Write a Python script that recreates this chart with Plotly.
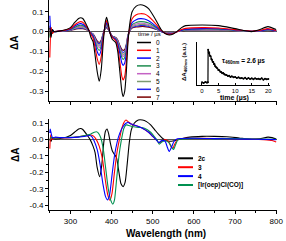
import plotly.graph_objects as go

# ---------------- data: top panel (transient spectra vs time) ----------------
wl_top = [250, 253, 256, 260, 280, 300, 310, 320, 325, 330,
          340, 345, 350, 355, 360, 365, 370, 375, 380, 385,
          388, 392, 396, 402, 410, 415, 420, 425, 428, 432,
          436, 440, 445, 450, 460, 470, 480, 490, 500, 510,
          520, 530, 540, 550, 560, 570, 580, 620, 660, 700,
          740, 760, 780, 800]

dA_t0 = [0.02, -0.03, 0.01, 0.0, 0.005, 0.02, 0.045, 0.066, 0.07, 0.066,
         0.03, 0.005, -0.03, -0.05, -0.12, -0.2, -0.25, -0.19, -0.05, 0.05,
         0.072, 0.04, -0.005, -0.04, -0.055, -0.1, -0.2, -0.3, -0.327, -0.3,
         -0.2, -0.05, 0.05, 0.1, 0.128, 0.135, 0.13, 0.115, 0.085, 0.05,
         0.012, -0.01, -0.017, -0.012, 0.002, 0.02, 0.03, 0.033, 0.03, 0.015,
         0.0, 0.01, 0.025, 0.01]
dA_t1 = [-0.13, 0.02, -0.01, 0.0, 0.004, 0.015, 0.033, 0.047, 0.05, 0.047,
         0.024, 0.007, -0.015, -0.032, -0.08, -0.135, -0.165, -0.125, -0.03, 0.04,
         0.055, 0.03, -0.005, -0.03, -0.045, -0.08, -0.15, -0.225, -0.243, -0.225,
         -0.15, -0.04, 0.03, 0.065, 0.085, 0.09, 0.088, 0.076, 0.056, 0.032,
         0.006, -0.008, -0.014, -0.01, 0.0, 0.01, 0.016, 0.02, 0.018, 0.01,
         0.002, 0.006, 0.015, 0.005]
dA_t2 = [0.08, -0.02, 0.01, 0.0, 0.004, 0.012, 0.027, 0.038, 0.04, 0.037,
         0.02, 0.006, -0.01, -0.024, -0.06, -0.1, -0.12, -0.09, -0.02, 0.032,
         0.045, 0.025, -0.005, -0.028, -0.04, -0.065, -0.11, -0.158, -0.17, -0.158,
         -0.11, -0.03, 0.02, 0.045, 0.06, 0.065, 0.063, 0.055, 0.04, 0.022,
         0.003, -0.008, -0.012, -0.008, 0.0, 0.007, 0.012, 0.015, 0.014, 0.008,
         0.002, 0.004, 0.011, 0.004]
dA_t3 = [-0.03, 0.01, 0.0, 0.0, 0.003, 0.01, 0.021, 0.03, 0.032, 0.03,
         0.017, 0.005, -0.008, -0.02, -0.05, -0.08, -0.095, -0.072, -0.015, 0.027,
         0.038, 0.02, -0.005, -0.027, -0.037, -0.057, -0.094, -0.13, -0.14, -0.13,
         -0.09, -0.025, 0.015, 0.035, 0.046, 0.05, 0.049, 0.043, 0.032, 0.018,
         0.002, -0.007, -0.011, -0.007, 0.0, 0.006, 0.01, 0.013, 0.012, 0.007,
         0.002, 0.004, 0.01, 0.004]
dA_t4 = [0.02, -0.01, 0.005, 0.0, 0.003, 0.009, 0.018, 0.025, 0.026, 0.025,
         0.014, 0.004, -0.007, -0.017, -0.042, -0.068, -0.08, -0.06, -0.012, 0.023,
         0.032, 0.017, -0.005, -0.026, -0.035, -0.052, -0.085, -0.117, -0.125, -0.117,
         -0.08, -0.022, 0.012, 0.029, 0.038, 0.042, 0.041, 0.036, 0.027, 0.015,
         0.002, -0.006, -0.01, -0.006, 0.0, 0.005, 0.009, 0.011, 0.011, 0.006,
         0.002, 0.003, 0.009, 0.003]
dA_t5 = [-0.02, 0.015, 0.0, 0.0, 0.003, 0.008, 0.016, 0.021, 0.022, 0.021,
         0.012, 0.003, -0.006, -0.015, -0.037, -0.06, -0.07, -0.053, -0.01, 0.02,
         0.028, 0.015, -0.005, -0.025, -0.033, -0.049, -0.08, -0.108, -0.115, -0.108,
         -0.074, -0.02, 0.01, 0.025, 0.032, 0.036, 0.035, 0.031, 0.023, 0.013,
         0.002, -0.005, -0.009, -0.005, 0.0, 0.004, 0.008, 0.01, 0.01, 0.005,
         0.002, 0.003, 0.008, 0.003]
dA_t6 = [0.03, -0.015, 0.005, 0.0, 0.002, 0.007, 0.013, 0.017, 0.018, 0.017,
         0.01, 0.002, -0.005, -0.013, -0.032, -0.053, -0.062, -0.047, -0.008, 0.017,
         0.024, 0.012, -0.005, -0.024, -0.031, -0.046, -0.074, -0.099, -0.105, -0.099,
         -0.068, -0.018, 0.008, 0.021, 0.027, 0.03, 0.03, 0.026, 0.02, 0.011,
         0.001, -0.005, -0.008, -0.005, 0.0, 0.004, 0.007, 0.009, 0.009, 0.005,
         0.002, 0.003, 0.007, 0.003]
dA_t7 = [-0.02, 0.02, -0.01, 0.0, 0.002, 0.006, 0.011, 0.014, 0.015, 0.014,
         0.008, 0.002, -0.005, -0.012, -0.028, -0.047, -0.055, -0.042, -0.007, 0.014,
         0.02, 0.01, -0.005, -0.023, -0.03, -0.043, -0.069, -0.09, -0.095, -0.09,
         -0.063, -0.016, 0.006, 0.018, 0.023, 0.025, 0.025, 0.022, 0.017, 0.01,
         0.001, -0.004, -0.007, -0.004, 0.0, 0.003, 0.006, 0.008, 0.008, 0.004,
         0.002, 0.003, 0.006, 0.003]
time_labels = ["0", "1", "2", "3", "4", "5", "6", "7"]

# ---------------- data: bottom panel (reference spectra) ----------------
wl_2c = [250, 253, 256, 260, 270, 280, 290, 300, 310, 320, 325, 330, 340, 348,
         355, 360, 365, 371, 376, 381, 385, 389, 393, 397, 402, 407, 412, 418,
         423, 428, 433, 438, 443, 448, 455, 465, 475, 485, 495, 505, 515, 525,
         535, 545, 555, 570, 590, 620, 650, 680, 710, 740, 760, 780, 790, 800]
dA_2c = [0.0, -0.01, 0.01, 0.005, 0.005, 0.01, 0.015, 0.025, 0.045, 0.065, 0.068, 0.062, 0.03, 0.0,
         -0.04, -0.08, -0.17, -0.226, -0.16, -0.02, 0.05, 0.065, 0.035, -0.02, -0.07, -0.09, -0.11, -0.2,
         -0.27, -0.287, -0.26, -0.15, -0.02, 0.06, 0.1, 0.12, 0.12, 0.11, 0.09, 0.06, 0.03, 0.005,
         -0.008, -0.01, -0.005, 0.005, 0.015, 0.02, 0.02, 0.018, 0.01, 0.002, 0.005, 0.015, 0.012, 0.003]

wl_3 = [250, 252, 255, 260, 270, 280, 300, 320, 340, 350, 357, 363, 370, 378, 385,
        391, 396, 401, 407, 413, 419, 425, 430, 435, 440, 448, 460, 475, 490, 500,
        508, 516, 522, 530, 538, 545, 549, 553, 560, 580, 620, 680, 740, 770, 790, 800]
dA_3 = [-0.055, 0.03, 0.0, 0.01, 0.012, 0.01, 0.012, 0.018, 0.025, 0.028, 0.02, 0.0, -0.04, -0.12, -0.25,
        -0.34, -0.37, -0.33, -0.2, -0.08, 0.0, 0.07, 0.105, 0.12, 0.11, 0.095, 0.085, 0.07, 0.045, 0.02,
        0.0, -0.02, -0.01, 0.0, -0.01, -0.045, -0.053, -0.03, 0.0, 0.008, 0.008, 0.005, 0.003, 0.0, -0.005, -0.015]

wl_4 = [250, 251, 254, 257, 262, 280, 300, 320, 340, 347, 352, 358, 365, 372, 379,
        385, 390, 395, 401, 407, 414, 420, 428, 435, 440, 448, 460, 475, 490, 500,
        508, 515, 522, 530, 536, 540, 545, 552, 560, 600, 650, 700, 750, 800]
dA_4 = [0.04, 0.065, 0.03, 0.01, 0.015, 0.012, 0.012, 0.015, 0.022, 0.025, 0.018, -0.01, -0.06, -0.15, -0.27,
        -0.345, -0.368, -0.34, -0.22, -0.1, -0.01, 0.04, 0.08, 0.1, 0.105, 0.095, 0.085, 0.07, 0.045, 0.02,
        0.0, -0.018, -0.005, -0.01, -0.05, -0.073, -0.05, -0.01, 0.005, 0.008, 0.006, 0.004, 0.002, 0.0]

wl_ir = [250, 253, 256, 262, 280, 300, 320, 340, 350, 358, 363, 368, 374, 380, 386,
         392, 398, 403, 407, 412, 418, 424, 430, 435, 440, 450, 465, 480, 495, 505,
         510, 516, 522, 530, 540, 547, 551, 555, 562, 600, 650, 700, 750, 800]
dA_ir = [0.0, 0.015, 0.01, 0.01, 0.012, 0.014, 0.018, 0.028, 0.035, 0.045, 0.048, 0.04, 0.01, -0.06, -0.18,
         -0.3, -0.37, -0.394, -0.37, -0.25, -0.1, 0.0, 0.07, 0.09, 0.088, 0.08, 0.075, 0.07, 0.045, 0.015,
         0.0, -0.028, -0.015, -0.005, -0.02, -0.05, -0.06, -0.035, 0.0, 0.008, 0.006, 0.006, 0.004, 0.002]
bottom_labels = ["2c", "3", "4", "[Ir(oep)Cl(CO)]"]

# ---------------- data: inset kinetic trace ----------------
t_us = [0, 0.5, 1, 1.5, 1.8, 1.85, 2.0, 2.2, 2.4, 2.6, 2.8, 3.0, 3.2, 3.4, 3.6, 3.8, 4.0, 4.3,
        4.6, 4.9, 5.2, 5.5, 5.8, 6.1, 6.4, 6.7, 7.0, 7.4, 7.8, 8.2, 8.6, 9.0, 9.5, 10, 10.5,
        11, 11.5, 12, 12.5, 13, 13.5, 14, 14.5, 15, 15.5, 16, 16.5, 17, 17.5, 18, 18.5, 19, 19.5, 20]
dA_460 = [0.02, 0.0, 0.03, 0.01, 0.02, 1.0, 0.93, 0.9, 0.82, 0.8, 0.72, 0.7, 0.64, 0.63, 0.57, 0.56, 0.5, 0.47,
          0.44, 0.39, 0.38, 0.34, 0.33, 0.29, 0.3, 0.26, 0.25, 0.24, 0.21, 0.22, 0.18, 0.2, 0.17, 0.18, 0.15,
          0.17, 0.14, 0.15, 0.13, 0.16, 0.12, 0.15, 0.12, 0.14, 0.11, 0.14, 0.12, 0.13, 0.11, 0.14, 0.1, 0.13, 0.11, 0.12]

x_ticks = [300, 400, 500, 600, 700, 800]
x_ticktext = ["300", "400", "500", "600", "700", "800"]
y_top_ticks = [0.1, 0.0, -0.1, -0.2, -0.3]
y_top_text = ["0.1", "0.0", "-0.1", "-0.2", "-0.3"]
y_bot_ticks = [0.1, 0.0, -0.1, -0.2, -0.3, -0.4]
y_bot_text = ["0.1", "0.0", "-0.1", "-0.2", "-0.3", "-0.4"]
inset_ticks = [0, 5, 10, 15, 20]

# ---------------- figure ----------------
W, H = 286, 241
ML, MR, MT, MB = 49, 9, 0, 31
PW, PH = W - ML - MR, H - MT - MB


def px(x):
    return (x - ML) / PW


def py(y):
    return 1 - (y - MT) / PH


FONT = "Liberation Sans"
top_colors = ["#000000", "#FF0000", "#0000FF", "#1E8C50", "#C462C4", "#7C9A70", "#2222EE", "#7A0000"]
bot_colors = ["#000000", "#FF0000", "#0000FF", "#009050"]

fig = go.Figure()

top_series = [dA_t0, dA_t1, dA_t2, dA_t3, dA_t4, dA_t5, dA_t6, dA_t7]
for i in reversed(range(8)):
    fig.add_trace(go.Scatter(x=wl_top, y=top_series[i], mode="lines", name=time_labels[i],
                             line=dict(color=top_colors[i], width=1.1, shape="spline", smoothing=0.6),
                             xaxis="x2", yaxis="y2", showlegend=False))

bot_x = [wl_2c, wl_3, wl_4, wl_ir]
bot_y = [dA_2c, dA_3, dA_4, dA_ir]
for i in [0, 1, 3, 2]:
    fig.add_trace(go.Scatter(x=bot_x[i], y=bot_y[i], mode="lines", name=bottom_labels[i],
                             line=dict(color=bot_colors[i], width=1.1, shape="spline", smoothing=0.6),
                             xaxis="x", yaxis="y", showlegend=False))

fig.add_trace(go.Scatter(x=t_us, y=dA_460, mode="lines+markers",
                         line=dict(color="#000000", width=1.2),
                         marker=dict(size=2, color="#000000"),
                         xaxis="x3", yaxis="y3", showlegend=False))

axis_common = dict(showline=True, linecolor="black", linewidth=1, ticks="outside",
                   ticklen=3, tickwidth=1, tickcolor="black", showgrid=False, mirror=False,
                   tickfont=dict(family=FONT, size=8, color="black"))

fig.update_layout(
    width=W, height=H,
    margin=dict(l=ML, r=MR, t=MT, b=MB, pad=0),
    paper_bgcolor="white", plot_bgcolor="white",
    showlegend=False,
    xaxis=dict(domain=[0, 1], anchor="y", range=[248, 802], tickmode="array",
               tickvals=x_ticks, ticktext=x_ticktext, zeroline=False,
               minor=dict(tickvals=[250, 350, 450, 550, 650, 750], ticks="outside", ticklen=2,
                          tickcolor="black"),
               **axis_common),
    yaxis=dict(domain=[0, py(119)], anchor="x", range=[-0.43, 0.126], tickmode="array",
               tickvals=y_bot_ticks, ticktext=y_bot_text,
               zeroline=True, zerolinecolor="#555555", zerolinewidth=1,
               minor=dict(tickvals=[0.05, -0.05, -0.15, -0.25, -0.35], ticks="outside", ticklen=2,
                          tickcolor="black"),
               **axis_common),
    xaxis2=dict(domain=[0, 1], anchor="y2", range=[248, 802], tickmode="array",
                tickvals=x_ticks, showticklabels=False, zeroline=False,
                minor=dict(tickvals=[250, 350, 450, 550, 650, 750], ticks="outside", ticklen=2,
                           tickcolor="black"),
                **axis_common),
    yaxis2=dict(domain=[py(100.5), 1], anchor="x2", range=[-0.347, 0.159], tickmode="array",
                tickvals=y_top_ticks, ticktext=y_top_text,
                zeroline=True, zerolinecolor="#555555", zerolinewidth=1,
                minor=dict(tickvals=[0.05, -0.05, -0.15, -0.25], ticks="outside", ticklen=2,
                           tickcolor="black"),
                **axis_common),
    xaxis3=dict(domain=[px(197), px(270)], anchor="y3", range=[-1.5, 20.5], tickmode="array",
                tickvals=inset_ticks, zeroline=False, showline=True, linecolor="black", linewidth=1,
                ticks="inside", ticklen=2, tickcolor="black", showgrid=False,
                tickfont=dict(family=FONT, size=6, color="black")),
    yaxis3=dict(domain=[py(85), py(42)], anchor="x3", range=[-0.06, 1.23], showticklabels=False,
                zeroline=False, showline=True, linecolor="black", linewidth=1, ticks="",
                showgrid=False),
)

shapes = []
annotations = []


def label(x, y, text, size, angle=0, xanchor="center"):
    annotations.append(dict(x=px(x), y=py(y), xref="paper", yref="paper", text=text,
                            showarrow=False, xanchor=xanchor, yanchor="middle", textangle=angle,
                            font=dict(family=FONT, size=size, color="black")))


# top legend
label(136, 33.5, "time / µs", 6, xanchor="left")
for i in range(8):
    yy = py(42.5 + i * 7.8)
    shapes.append(dict(type="line", xref="paper", yref="paper", x0=px(137), x1=px(151), y0=yy, y1=yy,
                       line=dict(color=top_colors[i], width=1.5)))
    label(154, 42.5 + i * 7.8, time_labels[i], 6.5, xanchor="left")

# bottom legend
for i in range(4):
    yy = py(158.3 + i * 8.9)
    shapes.append(dict(type="line", xref="paper", yref="paper", x0=px(178), x1=px(193), y0=yy, y1=yy,
                       line=dict(color=bot_colors[i], width=2)))
    label(196, 158.3 + i * 8.9, "<b>%s</b>" % bottom_labels[i], 6.5, xanchor="left")

# axis titles
label(15, 43, "<b>ΔA</b>", 10, angle=-90)
label(15, 155, "<b>ΔA</b>", 10, angle=-90)
label(165.5, 233, "<b>Wavelength (nm)</b>", 10)

# inset texts
label(184, 62, "<b>ΔA<sub>460nm</sub> (a.u.)</b>", 6, angle=-90)
label(234, 97.5, "<b>time (µs)</b>", 7)
label(243, 61, "<b>τ<sub>460nm</sub> = 2.6 µs</b>", 6.5)

fig.update_layout(shapes=shapes, annotations=annotations)

fig.write_html("out.html", config={"displayModeBar": False},
               post_script="document.body.style.margin='0';document.body.style.padding='0';")
